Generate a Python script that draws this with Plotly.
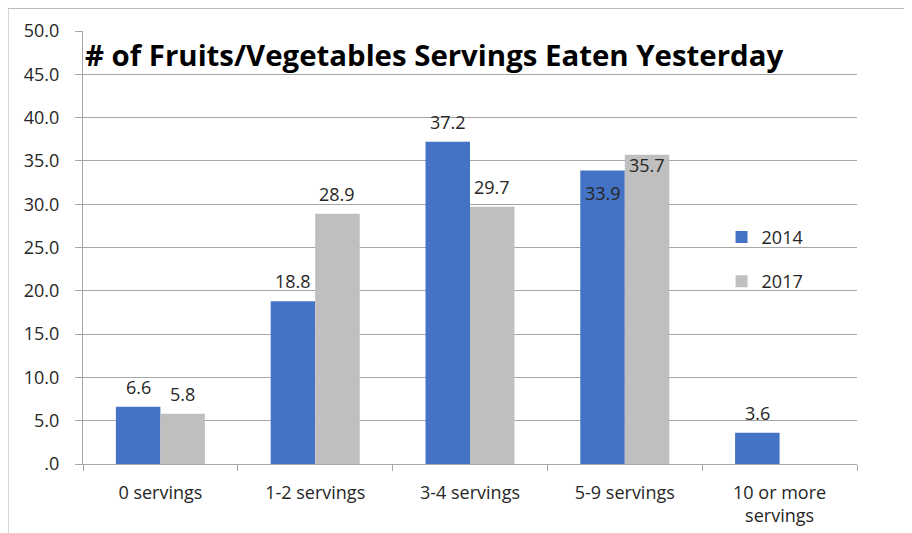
import plotly.graph_objects as go

categories = ["0 servings", "1-2 servings", "3-4 servings", "5-9 servings", "10 or more<br>servings"]
series_names = ["2014", "2017"]
values_2014 = [6.6, 18.8, 37.2, 33.9, 3.6]
values_2017 = [5.8, 28.9, 29.7, 35.7, None]
y_tick_vals = [0, 5, 10, 15, 20, 25, 30, 35, 40, 45, 50]
y_tick_text = [".0", "5.0", "10.0", "15.0", "20.0", "25.0", "30.0", "35.0", "40.0", "45.0", "50.0"]
title_text = "# of Fruits/Vegetables Servings Eaten Yesterday"

BLUE = "#4472C4"
GREY = "#BFBFBF"
FONT = "Open Sans"
TXT = "#262626"

# the page body adds an 8px offset; figure sized accordingly
W, H = 900, 540
ML, MR, MT, MB = 75, 51, 23, 84
bargap = 0.425

fig = go.Figure()
fig.add_trace(go.Bar(x=categories, y=values_2014, name=series_names[0], legendgroup="a",
                     marker=dict(color=BLUE, line=dict(width=0))))
fig.add_trace(go.Bar(x=categories, y=values_2017, name=series_names[1], legendgroup="b",
                     marker=dict(color=GREY, line=dict(width=0))))

plot_w = W - ML - MR
plot_h = H - MT - MB
cat_px = plot_w / len(categories)
bar_px = cat_px * (1 - bargap) / 2
annotations = []
for si, vals in enumerate([values_2014, values_2017]):
    for ci, v in enumerate(vals):
        if v is None:
            continue
        inside = categories[ci] == "5-9 servings"
        xshift = (-bar_px / 2) if si == 0 else (bar_px / 2)
        if inside:
            yanchor = "top"
            yshift = -9 if si == 0 else 4
        else:
            yshift = 6
            yanchor = "bottom"
        annotations.append(dict(x=categories[ci], y=v, xref="x", yref="y",
                                text=f"{v:.1f}", showarrow=False,
                                xshift=xshift, yshift=yshift, yanchor=yanchor,
                                font=dict(family=FONT, size=18, color=TXT)))

annotations.append(dict(x=0.0, y=0.944, xref="paper", yref="paper",
                        xanchor="left", yanchor="middle", showarrow=False,
                        text="<b>" + title_text + "</b>",
                        font=dict(family=FONT, size=29.4, color="#000000")))

# outer border (around the whole figure)
bx0 = -ML / plot_w
bx1 = (W - 1 - ML) / plot_w
by1 = 1 + (MT - 0.5) / plot_h
by0 = -(MB + 5) / plot_h

fig.update_layout(
    width=W, height=H,
    margin=dict(l=ML, r=MR, t=MT, b=MB, pad=0),
    paper_bgcolor="white", plot_bgcolor="white",
    barmode="group", bargap=bargap, bargroupgap=0,
    font=dict(family=FONT, size=18, color=TXT),
    showlegend=True,
    legend=dict(x=0.825, y=0.473, xanchor="left", yanchor="middle",
                font=dict(family=FONT, size=18, color=TXT),
                bgcolor="rgba(0,0,0,0)", tracegroupgap=18, traceorder="grouped",
                itemwidth=30),
    annotations=annotations,
    shapes=[dict(type="rect", xref="paper", yref="paper",
                 x0=bx0, x1=bx1, y0=by0, y1=by1,
                 line=dict(color="#BDBDBD", width=1.2), fillcolor="rgba(0,0,0,0)",
                 layer="below")],
)
fig.update_xaxes(
    type="category", showline=True, linecolor="#A6A6A6", linewidth=1,
    ticks="outside", tickson="boundaries", ticklen=6, tickcolor="#A6A6A6",
    showgrid=False, ticklabelstandoff=12, automargin=False,
    tickfont=dict(family=FONT, size=18, color=TXT),
)
fig.update_yaxes(
    range=[0, 50], tickvals=y_tick_vals, ticktext=y_tick_text,
    showline=True, linecolor="#A6A6A6", linewidth=1,
    ticks="outside", ticklen=7, tickcolor="#A6A6A6",
    showgrid=True, gridcolor="#A6A6A6", gridwidth=1, zeroline=False,
    ticklabelstandoff=12, automargin=False,
    tickfont=dict(family=FONT, size=18, color=TXT),
)

fig.write_html("out.html")
